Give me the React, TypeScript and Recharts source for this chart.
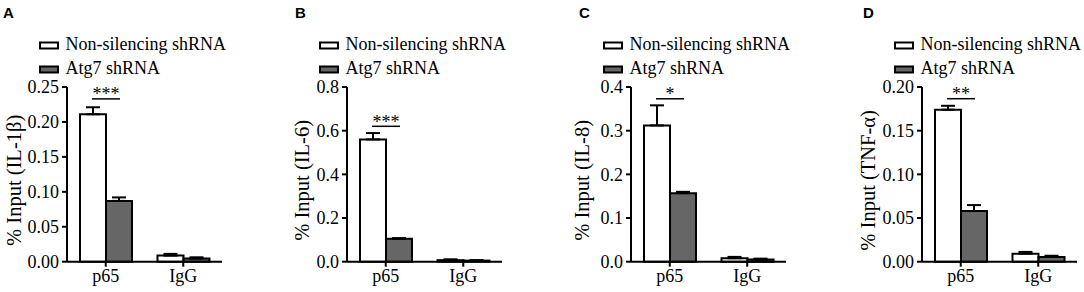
import React from 'react';
import { BarChart, Bar, XAxis, YAxis, ErrorBar, Legend, LabelList, Label } from 'recharts';

const categories = ['p65', 'IgG'];

// IL-1β
const il1bCtrl = [0.211, 0.0087];
const il1bCtrlErr = [0.01, 0.0025];
const il1bAtg7 = [0.087, 0.0045];
const il1bAtg7Err = [0.005, 0.0018];
const il1bTicks = [0, 0.05, 0.1, 0.15, 0.2, 0.25];

// IL-6
const il6Ctrl = [0.56, 0.007];
const il6CtrlErr = [0.029, 0.004];
const il6Atg7 = [0.105, 0.005];
const il6Atg7Err = [0.003, 0.002];
const il6Ticks = [0, 0.2, 0.4, 0.6, 0.8];

// IL-8
const il8Ctrl = [0.312, 0.008];
const il8CtrlErr = [0.046, 0.003];
const il8Atg7 = [0.157, 0.005];
const il8Atg7Err = [0.003, 0.002];
const il8Ticks = [0, 0.1, 0.2, 0.3, 0.4];

// TNF-α
const tnfCtrl = [0.174, 0.0092];
const tnfCtrlErr = [0.0045, 0.002];
const tnfAtg7 = [0.058, 0.0054];
const tnfAtg7Err = [0.0068, 0.0014];
const tnfTicks = [0, 0.05, 0.1, 0.15, 0.2];

const panelLetters = ['A', 'B', 'C', 'D'];
const yLabels = ['% Input (IL-1β)', '% Input (IL-6)', '% Input (IL-8)', '% Input (TNF-α)'];
const sigMarks = ['***', '***', '*', '**'];
const sigLevels = [0.233, 0.62, 0.373, 0.1866];

const serif = '"Liberation Serif", "Times New Roman", serif';
const seriesOrder = ['ctrl', 'atg'];

const build = (ctrl: number[], ctrlErr: number[], atg: number[], atgErr: number[]) =>
  categories.map((c, i) => ({
    name: c,
    ctrl: ctrl[i],
    ctrlErr: [0, ctrlErr[i]],
    atg: atg[i],
    atgErr: [0, atgErr[i]],
  }));

const panels = [
  { data: build(il1bCtrl, il1bCtrlErr, il1bAtg7, il1bAtg7Err), ticks: il1bTicks, digits: 2 },
  { data: build(il6Ctrl, il6CtrlErr, il6Atg7, il6Atg7Err), ticks: il6Ticks, digits: 1 },
  { data: build(il8Ctrl, il8CtrlErr, il8Atg7, il8Atg7Err), ticks: il8Ticks, digits: 1 },
  { data: build(tnfCtrl, tnfCtrlErr, tnfAtg7, tnfAtg7Err), ticks: tnfTicks, digits: 2 },
];

// layout: chart left, y-label x within chart, letter x
const layout = [
  { left: 0, labelX: 14, letterX: 3 },
  { left: 280, labelX: 22, letterX: 295 },
  { left: 564, labelX: 18, letterX: 579 },
  { left: 855, labelX: 13, letterX: 863 },
];

const LegendBox = ({ payload }: any) => {
  const items = [...(payload || [])].sort(
    (a: any, b: any) => seriesOrder.indexOf(a.dataKey) - seriesOrder.indexOf(b.dataKey)
  );
  return (
    <svg width={200} height={52}>
      {items.map((p: any, i: number) => (
        <g key={i}>
          <rect x={1} y={12.5 + i * 24} width={18} height={6} fill={p.color} stroke="#000" strokeWidth={2} />
          <text x={26.5} y={20 + i * 24} fontFamily={serif} fontSize={18} fill="#000">
            {p.value}
          </text>
        </g>
      ))}
    </svg>
  );
};

const sigLabel = (mark: string, level: number) => (props: any) => {
  const { x, y, width, height, value, index } = props;
  if (index !== 0 || !value) return null;
  const ppu = height / value;
  const ly = y + height - level * ppu;
  const x1 = x + width / 2 - 1;
  const x2 = x + width * 1.5 + 1;
  return (
    <g>
      <line x1={x1} x2={x2} y1={ly} y2={ly} stroke="#000" strokeWidth={1.5} />
      <text x={(x1 + x2) / 2} y={ly + 1.5} textAnchor="middle" fontFamily={serif} fontSize={18} fill="#000">
        {mark}
      </text>
    </g>
  );
};

export default function App() {
  return (
    <div style={{ position: 'absolute', left: 0, top: 0, width: 1084, height: 292, background: '#fff' }}>
      {panels.map((p, k) => (
        <React.Fragment key={k}>
          <div
            style={{
              position: 'absolute',
              left: layout[k].letterX,
              top: 5,
              fontFamily: '"Liberation Sans", Arial, sans-serif',
              fontWeight: 'bold',
              fontSize: 15,
              lineHeight: '16px',
            }}
          >
            {panelLetters[k]}
          </div>
          <div style={{ position: 'absolute', left: layout[k].left, top: 0 }}>
            <BarChart
              width={228}
              height={292}
              data={p.data}
              margin={{ top: 87, right: 6, bottom: 0, left: 0 }}
              barGap={0}
              barSize={26}
            >
              <XAxis
                dataKey="name"
                height={30.3}
                axisLine={{ stroke: '#000', strokeWidth: 2 }}
                tickLine={{ stroke: '#000', strokeWidth: 2 }}
                tickSize={5}
                tickMargin={3}
                tick={{ fill: '#000', fontSize: 18, fontFamily: serif }}
              />
              <YAxis
                width={67}
                domain={[0, p.ticks[p.ticks.length - 1]]}
                ticks={p.ticks}
                interval={0}
                tickFormatter={(v: number) => v.toFixed(p.digits)}
                axisLine={{ stroke: '#000', strokeWidth: 2 }}
                tickLine={{ stroke: '#000', strokeWidth: 2 }}
                tickSize={5}
                tickMargin={3}
                tick={{ fill: '#000', fontSize: 18, fontFamily: serif }}
              >
                <Label
                  content={({ viewBox }: any) => {
                    const cx = viewBox.x + layout[k].labelX;
                    const cy = viewBox.y + viewBox.height / 2 + 6;
                    return (
                      <text
                        x={cx}
                        y={cy}
                        transform={`rotate(-90, ${cx}, ${cy})`}
                        textAnchor="middle"
                        dominantBaseline="central"
                        fontFamily={serif}
                        fontSize={20.5}
                        fill="#000"
                      >
                        {yLabels[k]}
                      </text>
                    );
                  }}
                />
              </YAxis>
              <Legend
                layout="vertical"
                align="center"
                verticalAlign="middle"
                wrapperStyle={{ left: 38.5, top: 30, width: 200 }}
                content={<LegendBox />}
              />
              <Bar dataKey="ctrl" name="Non-silencing shRNA" fill="#ffffff" stroke="#000" strokeWidth={2} isAnimationActive={false}>
                <ErrorBar dataKey="ctrlErr" width={7} stroke="#000" strokeWidth={2} direction="y" />
                <LabelList dataKey="ctrl" content={sigLabel(sigMarks[k], sigLevels[k])} />
              </Bar>
              <Bar dataKey="atg" name="Atg7 shRNA" fill="#666666" stroke="#000" strokeWidth={2} isAnimationActive={false}>
                <ErrorBar dataKey="atgErr" width={7} stroke="#000" strokeWidth={2} direction="y" />
              </Bar>
            </BarChart>
          </div>
        </React.Fragment>
      ))}
    </div>
  );
}
